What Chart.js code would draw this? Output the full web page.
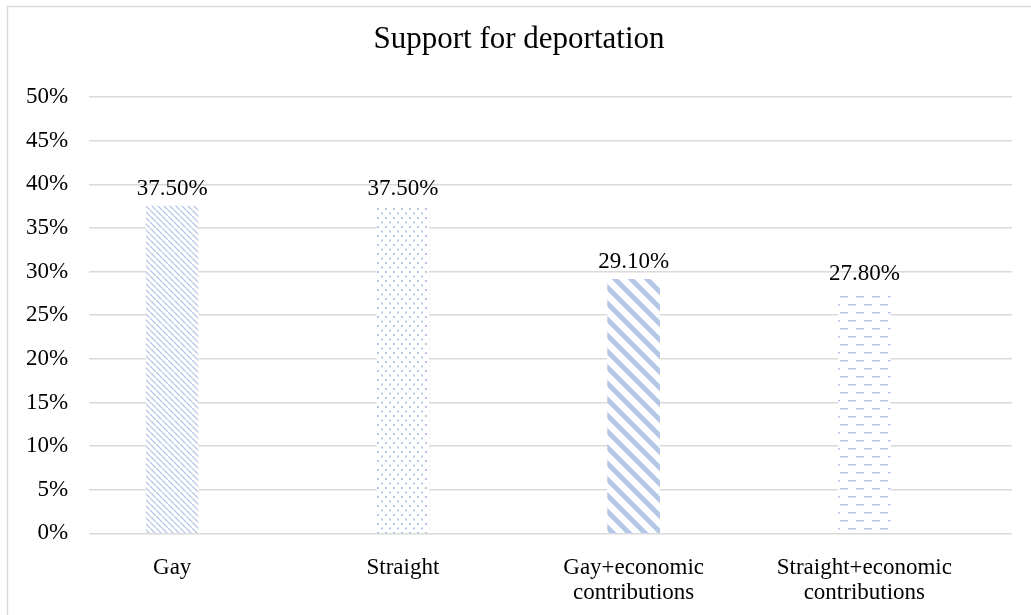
<!DOCTYPE html>
<html>
<head>
<meta charset="utf-8">
<script src="https://cdn.jsdelivr.net/npm/chart.js@4"></script>
<style>
  html, body { margin: 0; padding: 0; background: #fff; }
  canvas { display: block; }
</style>
</head>
<body>
<canvas id="myChart" width="1031" height="615"></canvas>
<script>
var categories = [["Gay"], ["Straight"], ["Gay+economic", "contributions"], ["Straight+economic", "contributions"]];
var support = [37.5, 37.5, 29.1, 27.8];
var valueLabels = ["37.50%", "37.50%", "29.10%", "27.80%"];
var yTicks = [0, 5, 10, 15, 20, 25, 30, 35, 40, 45, 50];
var chartTitle = 'Support for deportation';

var blue = '#b4c7e7';

// pattern tiles, drawn on small canvases
function makePattern(w, h, draw) {
  var c = document.createElement('canvas');
  c.width = w; c.height = h;
  var g = c.getContext('2d');
  g.fillStyle = '#fff';
  g.fillRect(0, 0, w, h);
  g.fillStyle = blue;
  g.strokeStyle = blue;
  draw(g, w, h);
  return document.getElementById('myChart').getContext('2d').createPattern(c, 'repeat');
}

var patLightDiag = makePattern(6, 6, function (g) {
  for (var i = 0; i < 6; i++) g.fillRect(i, i, 1.4, 1.4);
});
var patDots = makePattern(8, 9, function (g) {
  g.fillRect(1, 1, 2, 2);
  g.fillRect(5, 5.5, 2, 2);
});
var patWideDiag = makePattern(16, 16, function (g) {
  g.lineWidth = 5;
  [-16, 0, 16].forEach(function (o) {
    g.beginPath();
    g.moveTo(o - 4, -4);
    g.lineTo(o + 20, 20);
    g.stroke();
  });
});
var patDashes = makePattern(16, 16, function (g) {
  g.fillRect(0, 0, 8, 1.5);
  g.fillRect(8, 8, 8, 1.5);
});

var framePlugin = {
  id: 'frame',
  beforeDraw: function (chart) {
    var ctx = chart.ctx;
    ctx.save();
    ctx.fillStyle = '#fff';
    ctx.fillRect(0, 0, chart.width, chart.height);
    ctx.strokeStyle = '#d9d9d9';
    ctx.lineWidth = 1.5;
    ctx.strokeRect(7.5, 6.5, 1200, 800);
    // title
    ctx.fillStyle = '#000';
    ctx.font = '31px "Liberation Serif"';
    ctx.textAlign = 'center';
    ctx.textBaseline = 'middle';
    ctx.fillText(chartTitle, 519, 40);
    ctx.restore();
  }
};

var valuePlugin = {
  id: 'values',
  afterDatasetsDraw: function (chart) {
    var ctx = chart.ctx;
    var meta = chart.getDatasetMeta(0);
    ctx.save();
    ctx.font = '23px "Liberation Serif"';
    ctx.fillStyle = '#000';
    ctx.textAlign = 'center';
    ctx.textBaseline = 'alphabetic';
    meta.data.forEach(function (bar, i) {
      ctx.fillText(valueLabels[i], bar.x, bar.y - 11);
    });
    ctx.restore();
  }
};

var ctx = document.getElementById('myChart').getContext('2d');
var chart = new Chart(ctx, {
  type: 'bar',
  data: {
    datasets: [{
      data: support.map(function (v, i) { return { x: i, y: v }; }),
      backgroundColor: [patLightDiag, patDots, patWideDiag, patDashes],
      borderWidth: 0,
      barThickness: 52
    }]
  },
  options: {
    responsive: false,
    animation: false,
    devicePixelRatio: 1,
    layout: { padding: { left: 5, right: 19, top: 97, bottom: -13 } },
    plugins: {
      legend: { display: false },
      tooltip: { enabled: false },
      title: { display: false }
    },
    scales: {
      x: {
        type: 'linear',
        min: -0.36,
        max: 3.64,
        offset: false,
        afterBuildTicks: function (axis) {
          axis.ticks = categories.map(function (c, i) { return { value: i }; });
        },
        grid: { display: false, drawTicks: false },
        border: { display: false },
        ticks: {
          autoSkip: false,
          maxRotation: 0,
          padding: 22,
          color: '#000',
          font: { family: 'Liberation Serif', size: 23, lineHeight: 1.1 },
          callback: function (v) {
            return categories[Math.round(v)];
          }
        }
      },
      y: {
        min: 0,
        max: 50,
        afterBuildTicks: function (axis) {
          axis.ticks = yTicks.map(function (v) { return { value: v }; });
        },
        grid: { color: '#d9d9d9', lineWidth: 1.5, drawTicks: false },
        border: { display: false },
        ticks: {
          padding: 21,
          color: '#000',
          font: { family: 'Liberation Serif', size: 23 },
          callback: function (v) { return v + '%'; }
        }
      }
    }
  },
  plugins: [framePlugin, valuePlugin]
});
</script>
</body>
</html>
